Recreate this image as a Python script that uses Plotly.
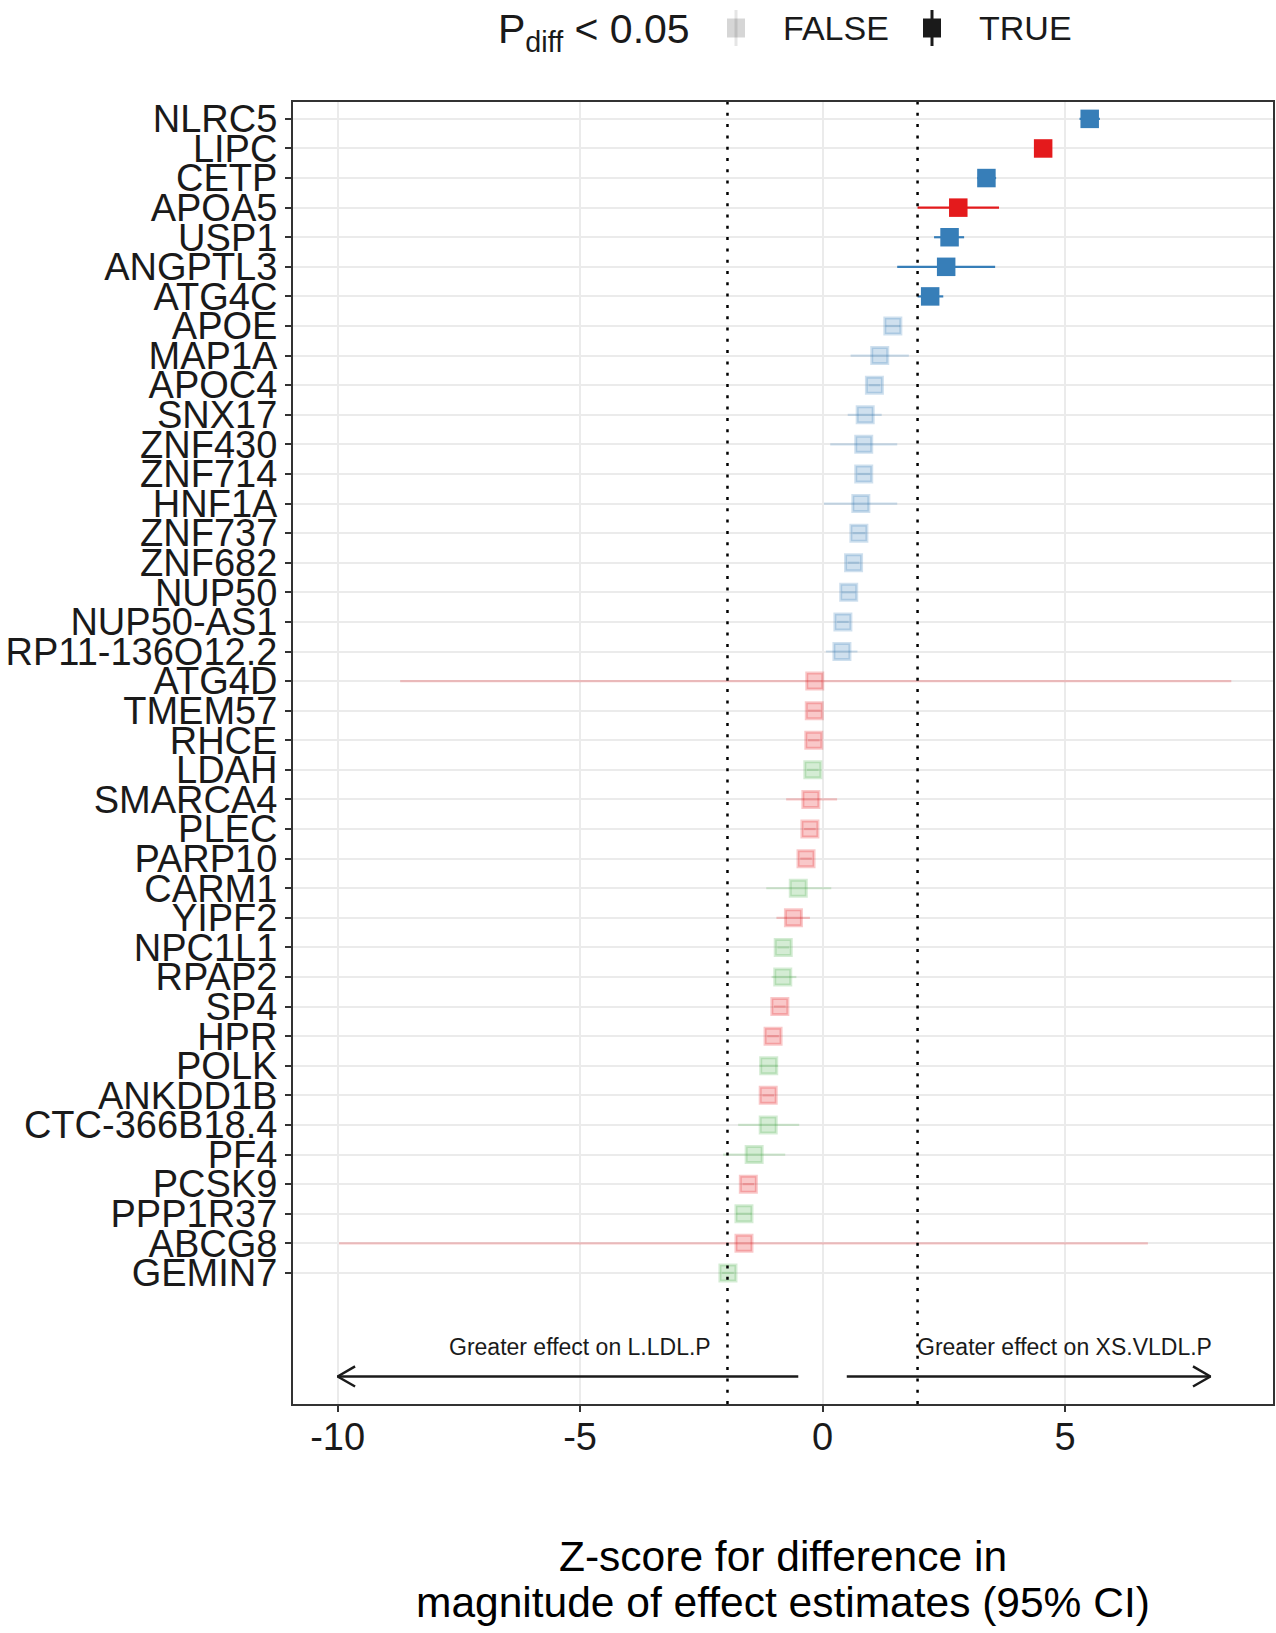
import plotly.graph_objects as go

# ---------------- data ----------------
genes = ["NLRC5", "LIPC", "CETP", "APOA5", "USP1", "ANGPTL3", "ATG4C", "APOE",
         "MAP1A", "APOC4", "SNX17", "ZNF430", "ZNF714", "HNF1A", "ZNF737", "ZNF682",
         "NUP50", "NUP50-AS1", "RP11-136O12.2", "ATG4D", "TMEM57", "RHCE", "LDAH",
         "SMARCA4", "PLEC", "PARP10", "CARM1", "YIPF2", "NPC1L1", "RPAP2", "SP4",
         "HPR", "POLK", "ANKDD1B", "CTC-366B18.4", "PF4", "PCSK9", "PPP1R37",
         "ABCG8", "GEMIN7"]
zscore = [5.51, 4.55, 3.38, 2.80, 2.62, 2.55, 2.22, 1.45,
          1.18, 1.07, 0.88, 0.85, 0.85, 0.79, 0.75, 0.64,
          0.54, 0.42, 0.40, -0.16, -0.17, -0.18, -0.20,
          -0.24, -0.26, -0.34, -0.50, -0.60, -0.81, -0.82, -0.88,
          -1.02, -1.11, -1.12, -1.12, -1.41, -1.53, -1.62,
          -1.62, -1.95]
ci_low = [5.30, 4.42, 3.19, 1.96, 2.30, 1.54, 1.96, 1.30,
          0.58, 0.95, 0.52, 0.16, 0.72, 0.03, 0.62, 0.52,
          0.40, 0.30, 0.07, -8.71, -0.30, -0.30, -0.32,
          -0.75, -0.38, -0.46, -1.16, -0.95, -0.93, -1.05, -1.00,
          -1.14, -1.30, -1.24, -1.74, -2.05, -1.65, -1.78,
          -9.97, -2.07]
ci_high = [5.72, 4.68, 3.58, 3.64, 2.92, 3.56, 2.49, 1.60,
           1.78, 1.19, 1.22, 1.54, 0.98, 1.54, 0.88, 0.76,
           0.68, 0.54, 0.72, 8.43, -0.04, -0.06, -0.08,
           0.30, -0.14, -0.22, 0.18, -0.26, -0.69, -0.54, -0.76,
           -0.90, -0.92, -1.00, -0.48, -0.77, -1.41, -1.46,
           6.71, -1.83]
group = ["blue", "red", "blue", "red", "blue", "blue", "blue", "blue",
         "blue", "blue", "blue", "blue", "blue", "blue", "blue", "blue",
         "blue", "blue", "blue", "red", "red", "red", "green",
         "red", "red", "red", "green", "red", "green", "green", "red",
         "red", "green", "red", "green", "green", "red", "green",
         "red", "green"]
p_diff_sig = [True, True, True, True, True, True, True, False,
              False, False, False, False, False, False, False, False,
              False, False, False, False, False, False, False,
              False, False, False, False, False, False, False, False,
              False, False, False, False, False, False, False,
              False, False]
thresholds = [-1.96, 1.96]
x_ticks = [-10, -5, 0, 5]
arrow_start = [-0.5, 0.5]
arrow_end = [-10, 8]
arrow_labels = ["Greater effect on L.LDL.P", "Greater effect on XS.VLDL.P"]
arrow_label_x = [-5, 5]
arrow_y = -2.5
arrow_label_y = -1.5
legend_title = "P<sub>diff</sub> &lt; 0.05"
legend_labels = ["FALSE", "TRUE"]
x_title_lines = ["Z-score for difference in", "magnitude of effect estimates (95% CI)"]

# ---------------- styling / layout ----------------
palette = {"blue": (55, 126, 184), "red": (228, 26, 28), "green": (77, 175, 74)}
FONT = "Liberation Sans, Arial, Helvetica, sans-serif"
INK = "#1a1a1a"
W, H = 1276, 1633
ML, MR, MT, MB = 293, 3, 102, 229
PW, PH = W - ML - MR, H - MT - MB


def px_x(px):
    return (px - ML) / PW


def px_y(py):
    return (H - MB - py) / PH


def rgba(c, a):
    return "rgba(%d,%d,%d,%s)" % (c[0], c[1], c[2], a)


n = len(genes)
ypos = [n - i for i in range(n)]

fig = go.Figure()

for sig in (False, True):
    for g in ("blue", "red", "green"):
        idx = [i for i in range(n) if group[i] == g and p_diff_sig[i] == sig]
        if not idx:
            continue
        col = palette[g]
        alpha = 1 if sig else 0.24
        xs = [zscore[i] for i in idx]
        ys = [ypos[i] for i in idx]
        plus = [ci_high[i] - zscore[i] for i in idx]
        minus = [zscore[i] - ci_low[i] for i in idx]
        fig.add_trace(go.Scatter(
            x=xs, y=ys, mode="markers", showlegend=False, hoverinfo="skip",
            marker=dict(symbol="square", size=18.5 if sig else 16,
                        color=rgba(col, alpha),
                        line=dict(width=0 if sig else 3, color=rgba(col, alpha))),
            error_x=dict(type="data", symmetric=False, array=plus, arrayminus=minus,
                         thickness=2.2, width=0, color=rgba(col, alpha)),
        ))

# arrows (line + open chevron heads)
head_dx = 0.36
head_dy = 0.34
for xs0, xe in zip(arrow_start, arrow_end):
    d = 1 if xe > xs0 else -1
    fig.add_trace(go.Scatter(x=[xs0, xe], y=[arrow_y, arrow_y], mode="lines",
                             line=dict(color=INK, width=2.5), showlegend=False, hoverinfo="skip"))
    fig.add_trace(go.Scatter(x=[xe - d * head_dx, xe, xe - d * head_dx],
                             y=[arrow_y + head_dy, arrow_y, arrow_y - head_dy], mode="lines",
                             line=dict(color=INK, width=2.5), showlegend=False, hoverinfo="skip"))

for lx, lt in zip(arrow_label_x, arrow_labels):
    fig.add_annotation(x=lx, y=arrow_label_y, text=lt, showarrow=False,
                       font=dict(family=FONT, size=23, color=INK), xanchor="center", yanchor="middle")

for t in thresholds:
    fig.add_shape(type="line", x0=t, x1=t, xref="x", yref="paper", y0=0, y1=1,
                  line=dict(color="black", width=2.5, dash="3px,8.3px"), layer="above")

# x-axis title (two lines)
for line_txt, py in zip(x_title_lines, [1556, 1602]):
    fig.add_annotation(xref="paper", yref="paper", x=0.5, y=px_y(py), text=line_txt,
                       showarrow=False, xanchor="center", yanchor="middle",
                       font=dict(family=FONT, size=42.5, color="black"))

# legend drawn manually at the top
LEG_Y = 28
fig.add_annotation(xref="paper", yref="paper", x=px_x(496), y=px_y(LEG_Y + 4), text=legend_title,
                   showarrow=False, xanchor="left", yanchor="middle",
                   font=dict(family=FONT, size=41, color=INK))
glyph_fill = ["rgba(0,0,0,0.16)", "#1a1a1a"]
glyph_line = ["rgba(0,0,0,0.10)", "#1a1a1a"]
glyph_x = [736, 932]
label_x = [781, 977]
for lab, gx, lx, fc, lc in zip(legend_labels, glyph_x, label_x, glyph_fill, glyph_line):
    fig.add_shape(type="line", xref="paper", yref="paper", xsizemode="pixel", ysizemode="pixel",
                  xanchor=px_x(gx), yanchor=px_y(LEG_Y), x0=0, x1=0, y0=-18, y1=18,
                  line=dict(color=lc, width=3))
    fig.add_shape(type="rect", xref="paper", yref="paper", xsizemode="pixel", ysizemode="pixel",
                  xanchor=px_x(gx), yanchor=px_y(LEG_Y), x0=-9, x1=9, y0=-9.5, y1=9.5,
                  fillcolor=fc, line=dict(width=0))
    fig.add_annotation(xref="paper", yref="paper", x=px_x(lx), y=px_y(LEG_Y), text=lab,
                       showarrow=False, xanchor="left", yanchor="middle",
                       font=dict(family=FONT, size=34, color=INK))

axis_common = dict(showgrid=True, gridcolor="#EBEBEB", gridwidth=2, zeroline=False,
                   ticks="outside", ticklen=6, tickwidth=2, tickcolor="#333333",
                   showline=True, linecolor="#333333", linewidth=2, mirror=True,
                   automargin=False,
                   tickfont=dict(family=FONT, size=38, color=INK))

fig.update_layout(
    width=W, height=H, autosize=False,
    margin=dict(l=ML, r=MR, t=MT, b=MB),
    paper_bgcolor="white", plot_bgcolor="white",
    font=dict(family=FONT, color=INK),
    showlegend=False,
    xaxis=dict(range=[-10.92, 9.29], tickvals=x_ticks, ticktext=[str(v) for v in x_ticks],
               ticklabelstandoff=-8, **axis_common),
    yaxis=dict(range=[-3.43, 40.57], tickvals=ypos, ticktext=genes, **axis_common),
)

fig.write_html("out.html",
               config={"displayModeBar": False},
               post_script="document.body.style.margin='0';document.body.style.overflow='hidden';")
